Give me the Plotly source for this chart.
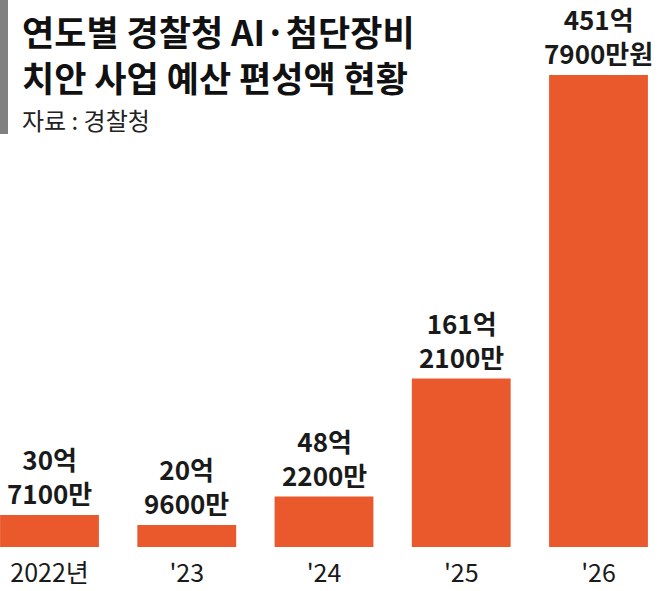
import plotly.graph_objects as go

categories = ["2022년", "'23", "'24", "'25", "'26"]
values = [30.71, 20.96, 48.22, 161.21, 451.79]  # 억원
label_eok = ["30억", "20억", "48억", "161억", "451억"]
label_man = ["7100만", "9600만", "2200만", "2100만", "7900만원"]

BAR = "#E9592C"
FONT = "Noto Sans CJK KR"
W, H = 661, 591
B = 44  # bottom margin
plot_h = H - B

xs = list(range(len(categories)))

fig = go.Figure()
fig.add_trace(go.Bar(
    x=xs, y=values, width=0.72,
    marker=dict(color=BAR, line=dict(width=0)),
    hoverinfo="skip",
))

lab_font = dict(family=FONT, size=26, color="#1a1a1a", weight="bold")
for i, v in enumerate(values):
    fig.add_annotation(x=i, y=v, xref="x", yref="y",
                       text=f"{label_eok[i]}<br>{label_man[i]}", showarrow=False,
                       yanchor="bottom", yshift=3, borderpad=0, font=lab_font)


def px_to_paper(xp, yp):
    return xp / W, (H - yp - B) / plot_h


px_, py_ = px_to_paper(21, 4)
fig.add_annotation(
    x=px_, y=py_, xref="paper", yref="paper",
    text="연도별 경찰청 AI·첨단장비<br>치안 사업 예산 편성액 현황",
    showarrow=False, xanchor="left", yanchor="top", align="left", borderpad=0,
    font=dict(family=FONT, size=35, color="#111111", weight="bold"),
)
px_, py_ = px_to_paper(21, 119)
fig.add_annotation(
    x=px_, y=py_, xref="paper", yref="paper", text="자료 : 경찰청",
    showarrow=False, xanchor="left", yanchor="middle", borderpad=0,
    font=dict(family=FONT, size=24, color="#222222"),
)

step = 137.25
a = -49.5 / step
b = a + W / step

_, y_bar_bot = px_to_paper(0, 134)
_, y_bar_top = px_to_paper(0, 0)

fig.update_layout(
    width=W, height=H,
    margin=dict(l=0, r=0, t=0, b=B),
    paper_bgcolor="white", plot_bgcolor="white",
    showlegend=False,
    xaxis=dict(
        range=[a, b], tickmode="array", tickvals=xs, ticktext=categories,
        showgrid=False, zeroline=False, showline=False, ticks="",
        ticklabelstandoff=9,
        tickfont=dict(family=FONT, size=25, color="#1a1a1a"),
        fixedrange=True,
    ),
    yaxis=dict(range=[0, 547 / 1.0448], visible=False, fixedrange=True),
    shapes=[dict(type="rect", xref="paper", yref="paper",
                 x0=0, x1=8 / W, y0=y_bar_bot, y1=y_bar_top,
                 fillcolor="#808080", line=dict(width=0), layer="above")],
)

fig.write_html("out.html", config={"displayModeBar": False},
               post_script="document.body.style.margin='0';document.body.style.overflow='hidden';")
